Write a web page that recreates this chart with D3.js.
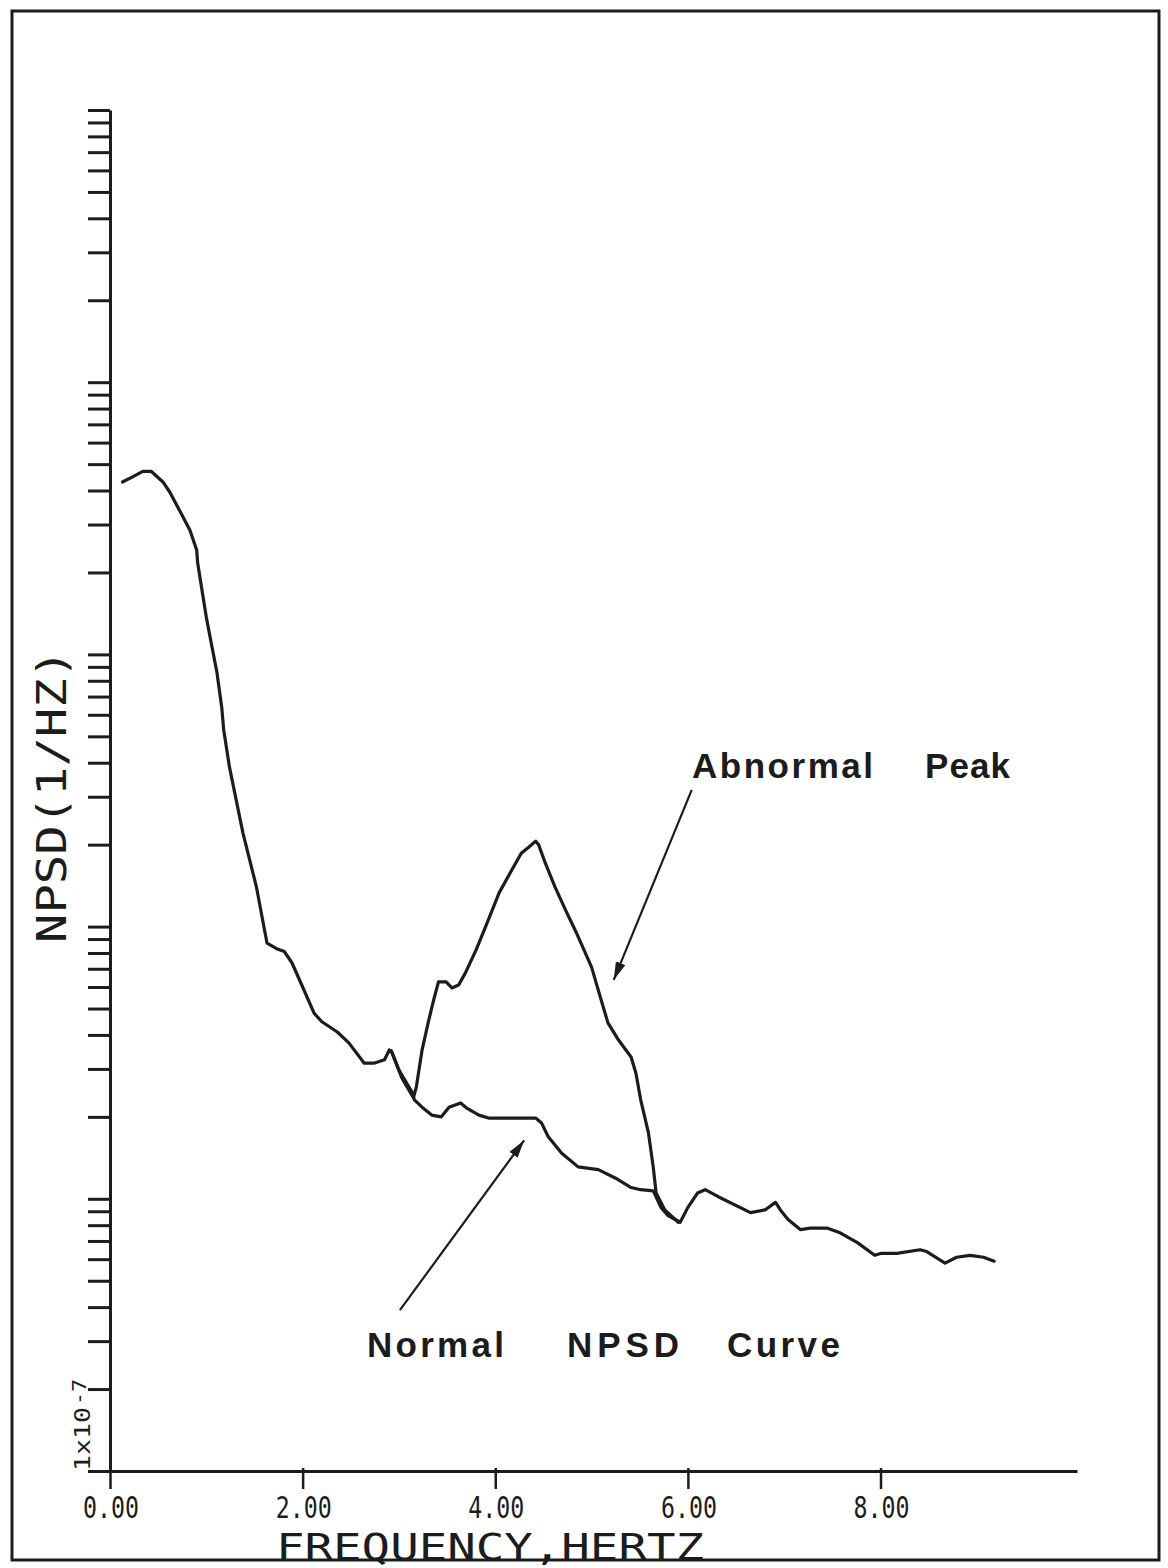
<!DOCTYPE html>
<html>
<head>
<meta charset="utf-8">
<script src="https://d3js.org/d3.v7.min.js"></script>
<style>
  body { margin: 0; background: #ffffff; }
  .plotter { font-family: "DejaVu Sans Mono", monospace; fill: #1c1c1c; }
  .notitie { font-family: "Liberation Sans", Arial, sans-serif; font-weight: bold; fill: #1c1c1c; }
</style>
</head>
<body>
<div id="grafiek"></div>
<script>

// frequency (Hz) and NPSD (1/Hz) of the normal curve
var normaalFreq = [0.13, 0.24, 0.34, 0.43, 0.55, 0.62, 0.72, 0.83, 0.90, 0.91, 0.95, 1.00, 1.06, 1.11,
  1.16, 1.18, 1.24, 1.31, 1.38, 1.45, 1.52, 1.58, 1.63, 1.73, 1.81, 1.89, 2.00, 2.12, 2.20, 2.36,
  2.48, 2.64, 2.74, 2.85, 2.90, 2.93, 3.00, 3.14, 3.16, 3.24, 3.34, 3.44, 3.52, 3.64, 3.70, 3.83,
  3.93, 4.42, 4.48, 4.55, 4.69, 4.86, 5.07, 5.25, 5.41, 5.51, 5.64, 5.72, 5.79, 5.92, 6.00, 6.10,
  6.18, 6.31, 6.65, 6.80, 6.91, 6.96, 7.04, 7.17, 7.27, 7.45, 7.58, 7.76, 7.94, 8.00, 8.17, 8.41,
  8.48, 8.67, 8.79, 8.93, 9.07, 9.18];
var normaalNpsd = [4.3e-4, 4.5e-4, 4.7e-4, 4.7e-4, 4.3e-4, 3.95e-4, 3.39e-4, 2.86e-4, 2.42e-4, 2.17e-4,
  1.77e-4, 1.37e-4, 1.06e-4, 8.6e-5, 6.4e-5, 5.3e-5, 3.86e-5, 2.92e-5, 2.21e-5, 1.76e-5, 1.40e-5,
  1.08e-5, 8.7e-6, 8.3e-6, 8.1e-6, 7.35e-6, 6.0e-6, 4.8e-6, 4.47e-6, 4.1e-6, 3.74e-6, 3.15e-6,
  3.15e-6, 3.24e-6, 3.52e-6, 3.43e-6, 2.97e-6, 2.45e-6, 2.31e-6, 2.17e-6, 2.03e-6, 2.0e-6, 2.17e-6,
  2.25e-6, 2.16e-6, 2.03e-6, 1.98e-6, 1.98e-6, 1.90e-6, 1.69e-6, 1.47e-6, 1.31e-6, 1.28e-6, 1.19e-6,
  1.10e-6, 1.08e-6, 1.07e-6, 9.3e-7, 8.7e-7, 8.2e-7, 9.3e-7, 1.05e-6, 1.08e-6, 1.02e-6, 8.9e-7,
  9.1e-7, 9.7e-7, 9.1e-7, 8.4e-7, 7.7e-7, 7.8e-7, 7.8e-7, 7.5e-7, 6.9e-7, 6.2e-7, 6.3e-7, 6.3e-7,
  6.5e-7, 6.4e-7, 5.8e-7, 6.1e-7, 6.2e-7, 6.1e-7, 5.9e-7];

// the abnormal peak branch
var afwijkFreq = [2.92, 3.03, 3.15, 3.18, 3.24, 3.31, 3.36, 3.41, 3.49, 3.55, 3.62, 3.69, 3.80, 3.90,
  4.04, 4.17, 4.27, 4.35, 4.42, 4.45, 4.52, 4.62, 4.73, 4.83, 4.89, 5.00, 5.10, 5.17, 5.28, 5.41,
  5.46, 5.51, 5.59, 5.64, 5.67, 5.76, 5.90];
var afwijkNpsd = [3.5e-6, 2.78e-6, 2.35e-6, 2.57e-6, 3.52e-6, 4.54e-6, 5.37e-6, 6.26e-6, 6.26e-6,
  5.95e-6, 6.10e-6, 6.76e-6, 8.2e-6, 1.0e-5, 1.33e-5, 1.61e-5, 1.86e-5, 1.96e-5, 2.06e-5, 2.0e-5,
  1.71e-5, 1.40e-5, 1.15e-5, 9.7e-6, 8.7e-6, 7.1e-6, 5.37e-6, 4.43e-6, 3.83e-6, 3.32e-6, 2.90e-6,
  2.31e-6, 1.75e-6, 1.31e-6, 1.05e-6, 9.1e-7, 8.2e-7];

// ticks
var xTicks = [0, 2, 4, 6, 8];
var xTickLabels = ["0.00", "2.00", "4.00", "6.00", "8.00"];
var decaden = [1e-7, 1e-6, 1e-5, 1e-4, 1e-3];
var mantissen = [1, 2, 3, 4, 5, 6, 7, 8, 9];

var breedte = 1168;
var hoogte = 1568;
var inkt = "#1c1c1c";

var svg = d3.select("#grafiek")
            .append("svg")
            .attr("width", breedte)
            .attr("height", hoogte);

// frame round the whole figure
svg.append("rect")
   .attr("x", 12)
   .attr("y", 11)
   .attr("width", 1147)
   .attr("height", 1549)
   .attr("fill", "none")
   .attr("stroke", inkt)
   .attr("stroke-width", 3);

// scales
var x = d3.scaleLinear()
          .domain([0, 10.04])
          .range([110, 1077]);

var y = d3.scaleLog()
          .domain([1e-7, 1e-2])
          .range([1471, 110]);

// x axis
var asX = d3.axisBottom(x)
            .tickValues(xTicks)
            .tickFormat("")
            .tickSize(18)
            .tickSizeOuter(0);

var gX = svg.append("g")
            .attr("transform", "translate(0,1471)")
            .call(asX);
gX.select(".domain").attr("stroke", inkt).attr("stroke-width", 3);
gX.selectAll(".tick line").attr("stroke", inkt).attr("stroke-width", 2.5).attr("y1", -3);

svg.selectAll(".xLabel")
   .data(xTicks)
   .enter()
   .append("text")
   .attr("class", "plotter xLabel")
   .attr("x", function(d) { return x(d) + 1; })
   .attr("y", 1518)
   .attr("text-anchor", "middle")
   .attr("font-size", 31)
   .attr("textLength", 56)
   .attr("lengthAdjust", "spacingAndGlyphs")
   .text(function(d, i) { return xTickLabels[i]; });

svg.append("text")
   .attr("class", "plotter")
   .attr("x", 276)
   .attr("y", 1560)
   .attr("font-size", 37)
   .attr("textLength", 428)
   .attr("lengthAdjust", "spacingAndGlyphs")
   .text("FREQUENCY,HERTZ");

// y axis, log decades with minor ticks
var yTicks = [];
decaden.forEach(function(dec) {
  mantissen.forEach(function(m) { yTicks.push(m * dec); });
});
yTicks.push(1e-2);

var asY = d3.axisLeft(y)
            .tickValues(yTicks)
            .tickFormat("")
            .tickSize(22)
            .tickSizeOuter(0);

var gY = svg.append("g")
            .attr("transform", "translate(110,0)")
            .call(asY);
gY.select(".domain").attr("stroke", inkt).attr("stroke-width", 3);
gY.selectAll(".tick line").attr("stroke", inkt).attr("stroke-width", 3);

svg.append("text")
   .attr("class", "plotter")
   .attr("transform", "translate(66,796) rotate(-90)")
   .attr("text-anchor", "middle")
   .attr("font-size", 40)
   .attr("textLength", 294)
   .attr("lengthAdjust", "spacingAndGlyphs")
   .text("NPSD(1/HZ)");

svg.append("text")
   .attr("class", "plotter")
   .attr("transform", "translate(90," + y(1e-7) + ") rotate(-90)")
   .attr("font-size", 22)
   .attr("textLength", 64)
   .attr("lengthAdjust", "spacingAndGlyphs")
   .text("1x10");

svg.append("text")
   .attr("class", "plotter")
   .attr("transform", "translate(86," + (y(1e-7) - 66) + ") rotate(-90)")
   .attr("font-size", 19)
   .attr("textLength", 26)
   .attr("lengthAdjust", "spacingAndGlyphs")
   .text("-7");

// the curves
var lijn = d3.line()
             .x(function(d) { return x(d[0]); })
             .y(function(d) { return y(d[1]); });

var normaal = normaalFreq.map(function(f, i) { return [f, normaalNpsd[i]]; });
var afwijk = afwijkFreq.map(function(f, i) { return [f, afwijkNpsd[i]]; });

[normaal, afwijk].forEach(function(reeks) {
  svg.append("path")
     .datum(reeks)
     .attr("d", lijn)
     .attr("fill", "none")
     .attr("stroke", inkt)
     .attr("stroke-width", 3.2)
     .attr("stroke-linejoin", "round")
     .attr("stroke-linecap", "round");
});

// arrows and notes
svg.append("defs")
   .append("marker")
   .attr("id", "pijlpunt")
   .attr("markerUnits", "userSpaceOnUse")
   .attr("markerWidth", 20)
   .attr("markerHeight", 12)
   .attr("refX", 18)
   .attr("refY", 5)
   .attr("orient", "auto")
   .append("path")
   .attr("d", "M0,0 L18,5 L0,10 Z")
   .attr("fill", inkt);

var pijlen = [
  {van: [6.04, 3.18e-5], naar: [5.23, 6.37e-6]},
  {van: [3.01, 3.9e-7], naar: [4.30, 1.64e-6]}
];

svg.selectAll(".pijl")
   .data(pijlen)
   .enter()
   .append("line")
   .attr("class", "pijl")
   .attr("x1", function(d) { return x(d.van[0]); })
   .attr("y1", function(d) { return y(d.van[1]); })
   .attr("x2", function(d) { return x(d.naar[0]); })
   .attr("y2", function(d) { return y(d.naar[1]); })
   .attr("stroke", inkt)
   .attr("stroke-width", 2.2)
   .attr("marker-end", "url(#pijlpunt)");

var woorden = [
  {tekst: "Abnormal", x: 692, y: 778, lengte: 181},
  {tekst: "Peak", x: 925, y: 778, lengte: 85},
  {tekst: "Normal", x: 367, y: 1357, lengte: 137},
  {tekst: "NPSD", x: 567, y: 1357, lengte: 112},
  {tekst: "Curve", x: 727, y: 1357, lengte: 113}
];

svg.selectAll(".notitie")
   .data(woorden)
   .enter()
   .append("text")
   .attr("class", "notitie")
   .attr("x", function(d) { return d.x; })
   .attr("y", function(d) { return d.y; })
   .attr("font-size", 35)
   .attr("textLength", function(d) { return d.lengte; })
   .attr("lengthAdjust", "spacing")
   .text(function(d) { return d.tekst; });

</script>
</body>
</html>
